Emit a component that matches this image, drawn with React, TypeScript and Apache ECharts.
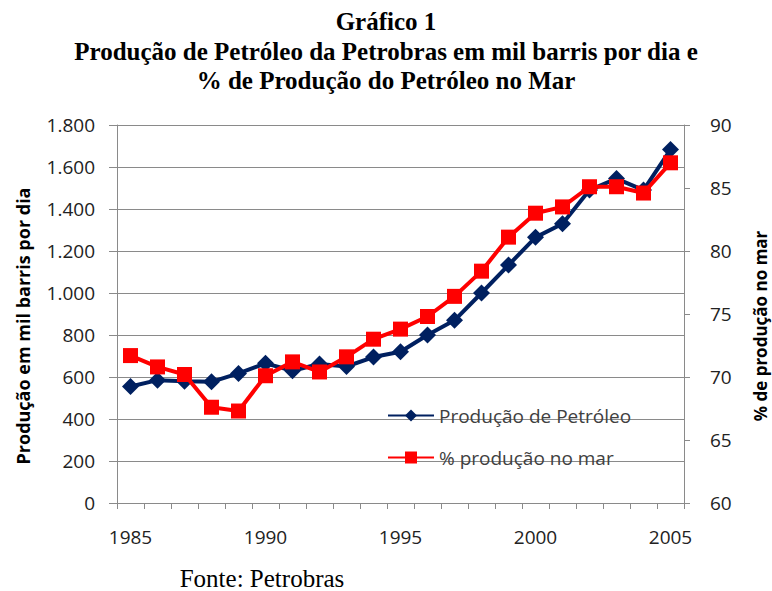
import React, { useEffect, useRef } from 'react';
import * as echarts from 'echarts';

const years = [
  '1985', '1986', '1987', '1988', '1989', '1990', '1991', '1992', '1993', '1994', '1995',
  '1996', '1997', '1998', '1999', '2000', '2001', '2002', '2003', '2004', '2005',
];
const producao = [555, 585, 580, 577, 617, 665, 630, 662, 650, 695, 720, 800, 870, 1000, 1133, 1265, 1330, 1490, 1545, 1490, 1683];
const pctMar = [71.7, 70.8, 70.2, 67.6, 67.3, 70.1, 71.2, 70.4, 71.6, 73.0, 73.8, 74.8, 76.4, 78.4, 81.1, 83.0, 83.5, 85.1, 85.1, 84.6, 87.0];

const titleLines = [
  'Gráfico 1',
  'Produção de Petróleo da Petrobras em mil barris por dia e',
  '% de Produção do Petróleo no Mar',
];
const fonte = 'Fonte: Petrobras';
const seriesNames = ['Produção de Petróleo', '% produção no mar'];
const leftAxisName = 'Produção em mil barris por dia';
const rightAxisName = '% de produção no mar';

const SANS = 'Open Sans';
const SERIF = 'Liberation Serif';
const GRID = '#8a8a8a';

function fmtThousands(v: number): string {
  return String(v).replace(/\B(?=(\d{3})+(?!\d))/g, '.');
}

export default function App() {
  const ref = useRef<HTMLDivElement>(null);
  useEffect(() => {
    if (!ref.current) return;
    const chart = echarts.init(ref.current, null, { renderer: 'svg' });
    const titleY = [21, 51, 80];
    chart.setOption({
      animation: false,
      backgroundColor: '#ffffff',
      grid: { left: 117, right: 88, top: 125, bottom: 88, containLabel: false, outerBoundsMode: 'none' },
      legend: {
        orient: 'vertical',
        left: 387,
        top: 406,
        padding: 0,
        itemWidth: 46,
        itemHeight: 15,
        itemGap: 23,
        textStyle: { fontFamily: SANS, fontSize: 19, color: '#404040' },
        data: seriesNames,
      },
      xAxis: {
        type: 'category',
        data: years,
        boundaryGap: true,
        axisLine: { show: true, lineStyle: { color: GRID, width: 1 } },
        axisTick: { show: true, interval: 0, length: 6, lineStyle: { color: GRID } },
        axisLabel: { interval: 4, margin: 24, fontFamily: SANS, fontSize: 19, color: '#222' },
        splitLine: { show: false },
      },
      yAxis: [
        {
          type: 'value',
          position: 'left',
          min: 0,
          max: 1800,
          interval: 200,
          axisLine: { show: true, lineStyle: { color: GRID, width: 1 } },
          axisTick: { show: true, length: 8, lineStyle: { color: GRID } },
          axisLabel: { margin: 22, fontFamily: SANS, fontSize: 19, color: '#222', formatter: (v: number) => fmtThousands(v) },
          splitLine: { show: true, lineStyle: { color: GRID, width: 1 } },
        },
        {
          type: 'value',
          position: 'right',
          min: 60,
          max: 90,
          interval: 5,
          axisLine: { show: true, lineStyle: { color: GRID, width: 1 } },
          axisTick: { show: true, length: 6, lineStyle: { color: GRID } },
          axisLabel: { margin: 26, fontFamily: SANS, fontSize: 19, color: '#222' },
          splitLine: { show: false },
        },
      ],
      series: [
        {
          name: seriesNames[0],
          type: 'line',
          yAxisIndex: 0,
          data: producao,
          symbol: 'diamond',
          symbolSize: 17,
          lineStyle: { color: '#002060', width: 4 },
          itemStyle: { color: '#002060' },
          z: 2,
        },
        {
          name: seriesNames[1],
          type: 'line',
          yAxisIndex: 1,
          data: pctMar,
          symbol: 'rect',
          symbolSize: 15,
          lineStyle: { color: '#ff0000', width: 4 },
          itemStyle: { color: '#ff0000' },
          z: 3,
        },
      ],
      graphic: [
        ...titleLines.map((t, i) => ({
          type: 'text',
          x: 386,
          y: titleY[i],
          style: {
            text: t,
            fontFamily: SERIF,
            fontSize: 25,
            fontWeight: 'bold',
            fill: '#000',
            align: 'center',
            verticalAlign: 'middle',
          },
        })),
        {
          type: 'text',
          x: 23,
          y: 326,
          rotation: Math.PI / 2,
          style: {
            text: leftAxisName,
            fontFamily: SANS,
            fontSize: 18,
            fontWeight: 'bold',
            fill: '#000',
            align: 'center',
            verticalAlign: 'middle',
          },
        },
        {
          type: 'text',
          x: 760,
          y: 326,
          rotation: Math.PI / 2,
          style: {
            text: rightAxisName,
            fontFamily: SANS,
            fontSize: 17,
            fontWeight: 'bold',
            fill: '#000',
            align: 'center',
            verticalAlign: 'middle',
          },
        },
        {
          type: 'text',
          x: 262,
          y: 578,
          style: {
            text: fonte,
            fontFamily: SERIF,
            fontSize: 25,
            fill: '#000',
            align: 'center',
            verticalAlign: 'middle',
          },
        },
      ],
    });
    return () => chart.dispose();
  }, []);
  return (
    <div
      ref={ref}
      style={{ position: 'fixed', left: 0, top: 0, width: 772, height: 591, background: '#fff' }}
    />
  );
}
